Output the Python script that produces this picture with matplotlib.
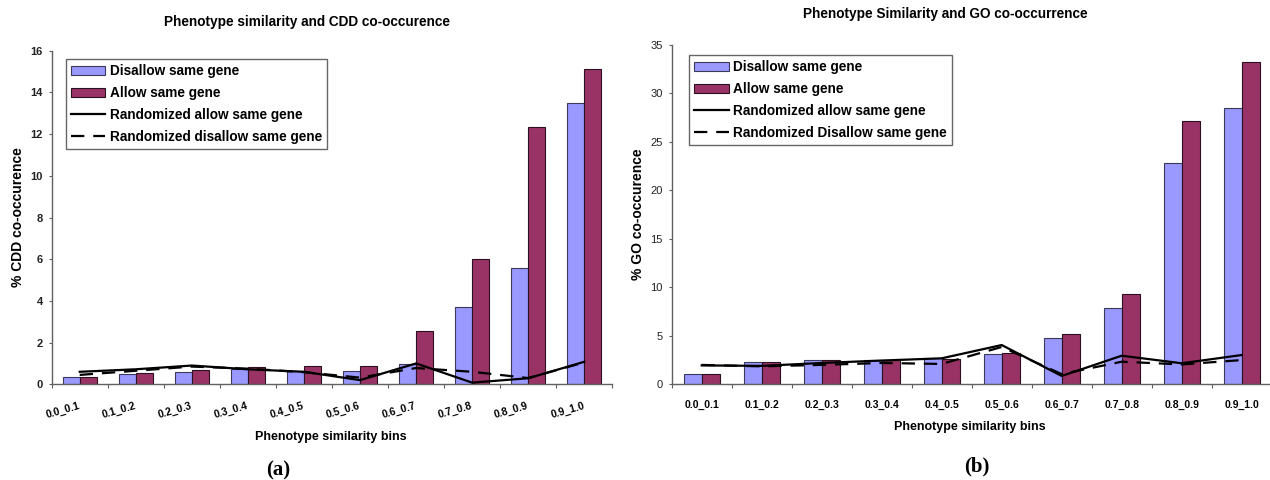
import numpy as np
import matplotlib
matplotlib.use("Agg")
import matplotlib.pyplot as plt
from matplotlib.patches import Patch
from matplotlib.lines import Line2D

plt.rcParams['font.family'] = ['Liberation Sans', 'DejaVu Sans']

bins = ['0.0_0.1', '0.1_0.2', '0.2_0.3', '0.3_0.4', '0.4_0.5',
        '0.5_0.6', '0.6_0.7', '0.7_0.8', '0.8_0.9', '0.9_1.0']

# (a) CDD co-occurrence
cdd_disallow = [0.33, 0.5, 0.61, 0.75, 0.62, 0.65, 0.95, 3.7, 5.6, 13.48]
cdd_allow = [0.33, 0.54, 0.69, 0.83, 0.89, 0.88, 2.56, 6.0, 12.36, 15.12]
cdd_rand_allow = [0.6, 0.72, 0.9, 0.72, 0.6, 0.2, 1.0, 0.08, 0.29, 1.08]
cdd_rand_disallow = [0.45, 0.65, 0.85, 0.75, 0.58, 0.32, 0.78, 0.6, 0.3, 1.05]

# (b) GO co-occurrence
go_disallow = [1.05, 2.33, 2.52, 2.52, 2.68, 3.1, 4.8, 7.9, 22.86, 28.47]
go_allow = [1.05, 2.31, 2.55, 2.5, 2.62, 3.2, 5.22, 9.31, 27.13, 33.2]
go_rand_allow = [1.95, 1.9, 2.2, 2.45, 2.68, 4.05, 0.86, 2.95, 2.17, 3.02]
go_rand_disallow = [2.0, 1.85, 2.0, 2.2, 2.1, 3.85, 1.05, 2.33, 2.05, 2.5]

C_DIS = '#9999ff'
C_ALL = '#993366'
DASH = (0, (6, 4))

W, H = 1270, 480
fig = plt.figure(figsize=(12.7, 4.8), dpi=100)


def draw(ax, dis, alw, r_all, r_dis, ymax, ystep, title, tpos, ylabel, xlab_y,
         leg_labels, leg_xy, rotated, bold_y):
    x = np.arange(len(bins))
    ax.bar(x - 0.15, dis, 0.3, color=C_DIS, edgecolor='#3a3a5a', linewidth=0.8, zorder=2)
    ax.bar(x + 0.15, alw, 0.3, color=C_ALL, edgecolor='#2a1020', linewidth=0.8, zorder=2)
    ax.plot(x, r_all, color='black', lw=1.6, zorder=3)
    ax.plot(x, r_dis, color='black', lw=1.6, ls=DASH, zorder=3)

    ax.set_xlim(-0.5, len(bins) - 0.5)
    ax.set_ylim(0, ymax)
    ax.set_yticks(np.arange(0, ymax + 0.1, ystep))
    for sp in ['top', 'right']:
        ax.spines[sp].set_visible(False)
    for sp in ['left', 'bottom']:
        ax.spines[sp].set_color('#606060')
        ax.spines[sp].set_linewidth(1.0)

    # ticks at bin edges, labels at bin centres
    ax.set_xticks(np.arange(-0.5, len(bins), 1.0))
    ax.set_xticklabels([])
    ax.set_xticks(x, minor=True)
    ax.tick_params(axis='x', which='major', length=3, direction='out', color='#606060')
    ax.tick_params(axis='y', length=2.5, direction='out', color='#606060', pad=4,
                   labelsize=8)
    if rotated:
        ax.set_xticklabels(bins, minor=True, rotation=16, ha='right', va='center',
                           rotation_mode='anchor', fontsize=7.5, fontweight='bold')
        ax.tick_params(axis='x', which='minor', length=0, pad=15)
    else:
        ax.set_xticklabels(bins, minor=True, fontsize=7.5, fontweight='bold')
        ax.tick_params(axis='x', which='minor', length=0, pad=11)
    for t in ax.get_yticklabels():
        t.set_fontweight('bold' if bold_y else 'normal')
        t.set_color('#222222')

    pos = ax.get_position()
    ax_l, ax_t = pos.x0 * W, (1 - pos.y1) * H
    ax_w, ax_h = pos.width * W, pos.height * H
    ax_b = ax_t + ax_h

    ax.set_title(title, fontsize=9.8, fontweight='bold', pad=0,
                 x=(tpos[0] - ax_l) / ax_w, y=(ax_b - tpos[1]) / ax_h, va='center')
    ax.set_ylabel(ylabel, fontsize=10, fontweight='bold', va='center')
    ax.yaxis.set_label_coords(-34 / ax_w, 0.5)
    ax.set_xlabel('Phenotype similarity bins', fontsize=9, fontweight='bold', va='center')
    ax.xaxis.set_label_coords(0.497, (ax_b - xlab_y) / ax_h)

    handles = [Patch(facecolor=C_DIS, edgecolor='#3a3a5a', lw=0.8),
               Patch(facecolor=C_ALL, edgecolor='#2a1020', lw=0.8),
               Line2D([], [], color='black', lw=1.6),
               Line2D([], [], color='black', lw=1.6, ls=DASH)]
    leg = ax.legend(handles, leg_labels, loc='upper left',
                    bbox_to_anchor=(leg_xy[0] / W, 1 - leg_xy[1] / H),
                    bbox_transform=fig.transFigure, borderaxespad=0,
                    prop={'size': 9.8, 'weight': 'bold'}, frameon=True,
                    fancybox=False, edgecolor='#404040', handlelength=2.5,
                    handletextpad=0.35, labelspacing=0.58, borderpad=0.38)
    leg.get_frame().set_linewidth(1.0)


ax1 = fig.add_axes([51.7 / W, 1 - 384.3 / H, (612.3 - 51.7) / W, (384.3 - 50.7) / H])
draw(ax1, cdd_disallow, cdd_allow, cdd_rand_allow, cdd_rand_disallow, 16, 2,
     'Phenotype similarity and CDD co-occurence', (307, 22), '% CDD co-occurence', 436.7,
     ['Disallow same gene', 'Allow same gene', 'Randomized allow same gene',
      'Randomized disallow same gene'], (65.7, 59.3), True, True)

ax2 = fig.add_axes([671.7 / W, 1 - 384.3 / H, (1271.7 - 671.7) / W, (384.3 - 45) / H])
draw(ax2, go_disallow, go_allow, go_rand_allow, go_rand_disallow, 35, 5,
     'Phenotype Similarity and GO co-occurrence', (945, 14), '% GO co-occurence', 426.7,
     ['Disallow same gene', 'Allow same gene', 'Randomized allow same gene',
      'Randomized Disallow same gene'], (689.3, 55), False, False)

fig.text(278 / W, 1 - 470 / H, '(a)', family='Liberation Serif', fontsize=15,
         fontweight='bold', ha='center', va='center')
fig.text(977 / W, 1 - 466 / H, '(b)', family='Liberation Serif', fontsize=15,
         fontweight='bold', ha='center', va='center')

fig.savefig('out.png', dpi=100)
